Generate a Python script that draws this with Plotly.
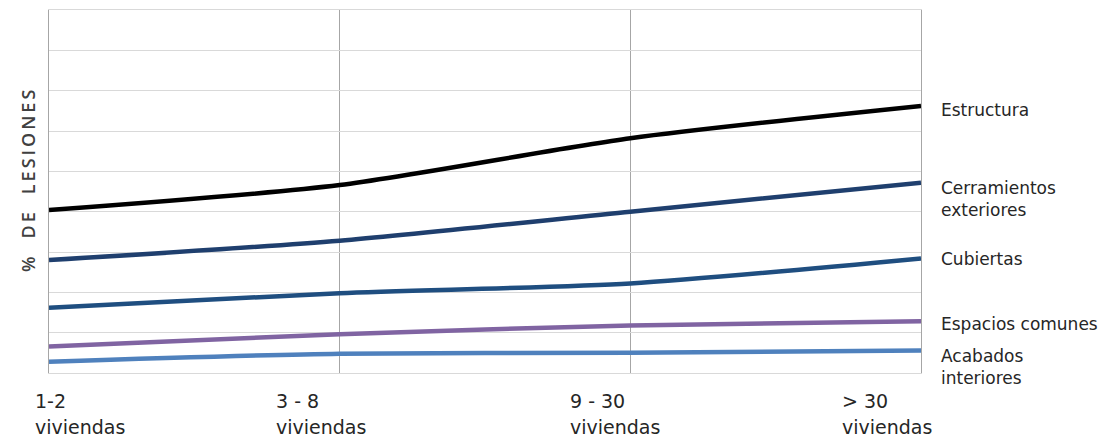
import plotly.graph_objects as go

categories = ["1-2<br>viviendas", "3 - 8<br>viviendas", "9 - 30<br>viviendas", "> 30<br>viviendas"]

series_names = ["Estructura", "Cerramientos<br>exteriores", "Cubiertas", "Espacios comunes", "Acabados<br>interiores"]
estructura = [20.2, 23.3, 29.1, 33.1]
cerramientos = [14.0, 16.4, 20.0, 23.6]
cubiertas = [8.1, 9.9, 11.1, 14.2]
espacios = [3.3, 4.8, 5.9, 6.4]
acabados = [1.4, 2.4, 2.5, 2.8]

series_values = [estructura, cerramientos, cubiertas, espacios, acabados]
colors = ["#000000", "#1f3f6e", "#1f4e80", "#8064a2", "#4f81bd"]
label_yshift = [-4, -5, -1, -3, -6]
tick_xshift = [-16, -66, -62, -81]

sp = "\u2006"
y_title = "%\u2003D" + sp + "E\u2003" + sp.join("LESIONES")

xidx = list(range(len(categories)))

fig = go.Figure()
for name, vals, col in zip(series_names, series_values, colors):
    fig.add_trace(go.Scatter(
        x=xidx, y=vals, mode="lines", name=name,
        line=dict(color=col, width=4.5, shape="spline", smoothing=0.7),
        showlegend=False, hoverinfo="skip",
    ))

annotations = []
for name, vals, ys in zip(series_names, series_values, label_yshift):
    annotations.append(dict(
        x=1, xref="paper", y=vals[-1], yref="y", text=name, showarrow=False,
        xanchor="left", yanchor="top", xshift=18, yshift=12 + ys, align="left",
        font=dict(family="DejaVu Sans", size=17, color="#262626"),
    ))
for i, (cat, xs) in enumerate(zip(categories, tick_xshift)):
    for j, line in enumerate(cat.split("<br>")):
        annotations.append(dict(
            x=i, xref="x", y=0, yref="paper", text=line, showarrow=False,
            xanchor="left", yanchor="top", xshift=xs, yshift=-15 - 26 * j, align="left",
            font=dict(family="DejaVu Sans", size=19, color="#262626"),
        ))
annotations.append(dict(
    x=0, xref="paper", y=0.529, yref="paper", text=y_title, showarrow=False,
    textangle=-90, xanchor="center", yanchor="middle", xshift=-21,
    font=dict(family="Open Sans", size=18, color="#404040", weight=600),
))

fig.update_layout(
    width=1108, height=431,
    margin=dict(l=41, r=195, t=2, b=66),
    paper_bgcolor="white", plot_bgcolor="white",
    annotations=annotations,
    xaxis=dict(
        range=[0, 3], tickvals=xidx, showticklabels=False,
        showgrid=True, gridcolor="#a6a6a6", gridwidth=1,
        showline=True, mirror=True, linecolor="#d9d9d9", linewidth=1,
        zeroline=False, ticks="",
    ),
    yaxis=dict(
        range=[0, 45], dtick=5, showticklabels=False,
        showgrid=True, gridcolor="#d9d9d9", gridwidth=1,
        showline=True, mirror=True, linecolor="#a6a6a6", linewidth=1,
        zeroline=False, ticks="",
    ),
)

fig.write_html("out.html")
